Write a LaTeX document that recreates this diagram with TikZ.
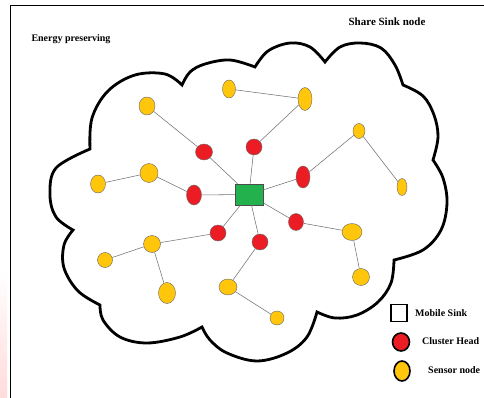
\documentclass[tikz,border=0pt]{standalone}
\usepackage{fontspec}
\setmainfont{Liberation Serif}
\usetikzlibrary{shapes.geometric}
\definecolor{sensorY}{HTML}{FFC60B}
\definecolor{headR}{HTML}{EC1C24}
\definecolor{sinkG}{HTML}{22B14C}
\begin{document}
\begin{tikzpicture}[x=1pt,y=-1pt,
  sensor/.style={ellipse, draw=black!60, fill=sensorY, line width=0.4pt, inner sep=0pt},
  head/.style={ellipse, draw=black!60, fill=headR, line width=0.4pt, inner sep=0pt},
  sinkbox/.style={rectangle, draw=black!70, fill=sinkG, line width=0.5pt, inner sep=0pt,
    minimum width=28pt, minimum height=21pt},
  link/.style={draw=black!55, line width=0.55pt},
  cloudline/.style={draw=black, line width=2.8pt, line join=miter},
  legendsym/.style={line width=1.6pt, draw=black, inner sep=0pt},
  label/.style={font=\bfseries\fontsize{10}{12}\selectfont, inner sep=0pt, anchor=west},
  sz/.style 2 args={minimum width=#1pt, minimum height=#2pt}
]
% page area and frame
\useasboundingbox (0,0) rectangle (484,398);
\fill[white] (0,0) rectangle (484,398);
\shade[top color=white, bottom color=red!14] (0,270) rectangle (7,398);
\draw[line width=1.8pt] (10.5,398) -- (10.5,5.5) -- (484,5.5);

% titles
\node[font=\bfseries\fontsize{10}{12}\selectfont, inner sep=0pt] (t1) at (71,39) {Energy preserving};
\node[font=\bfseries\fontsize{11}{13}\selectfont, inner sep=0pt] (t2) at (387,22) {Share Sink node};

% cloud outline, one smooth bump between each pair of notches
\draw[cloudline]
  plot[smooth, tension=0.6] coordinates {(90,149)(92,118)(108,91)(135,75)(165,74)(182,85)}
  -- plot[smooth, tension=0.6] coordinates {(182,85)(190,72)(205,64)(230,60)(255,67)}
  -- plot[smooth, tension=0.6] coordinates {(255,67)(268,51)(290,43)(310,47)(325,62)}
  -- plot[smooth, tension=0.6] coordinates {(325,62)(340,47)(360,43)(381,48)(395,65)(403,85)}
  -- plot[smooth, tension=0.6] coordinates {(403,85)(423,96)(434,115)(438,137)(433,160)}
  -- plot[smooth, tension=0.6] coordinates {(433,160)(443,178)(447,203)(441,230)(423,250)(394,260)}
  -- plot[smooth, tension=0.6] coordinates {(394,260)(391,283)(378,302)(357,315)(335,318)(317,312)}
  -- plot[smooth, tension=0.6] coordinates {(317,312)(307,337)(287,353)(257,361)(227,353)(210,340)(202,327)}
  -- plot[smooth, tension=0.6] coordinates {(202,327)(180,337)(147,343)(120,337)(103,320)(100,305)}
  -- plot[smooth, tension=0.6] coordinates {(100,305)(78,291)(64,268)(64,245)(73,230)}
  -- plot[smooth, tension=0.6] coordinates {(73,230)(56,217)(50,195)(56,168)(90,149)}
  -- cycle;

% mobile sink
\node[sinkbox] (sink) at (249,194.5) {};

% cluster heads
\node[head, sz={17}{16}] (r1) at (204,152) {};
\node[head, sz={16}{16}] (r2) at (254,147) {};
\node[head, sz={14}{22}] (r3) at (303,177) {};
\node[head, sz={15}{20}] (r4) at (194,195) {};
\node[head, sz={16}{16}] (r5) at (218,233) {};
\node[head, sz={16}{16}] (r6) at (260,242) {};
\node[head, sz={15}{17}] (r7) at (296,222) {};

% sensor nodes
\node[sensor, sz={16}{18}] (y1) at (147,106) {};
\node[sensor, sz={13}{18}] (y2) at (229,89) {};
\node[sensor, sz={14}{23}] (y3) at (305,99) {};
\node[sensor, sz={12}{15}] (y4) at (359,131) {};
\node[sensor, sz={10}{17}] (y5) at (402,187) {};
\node[sensor, sz={18}{19}] (y6) at (149,173) {};
\node[sensor, sz={15}{18}] (y7) at (98,184) {};
\node[sensor, sz={17}{17}] (y8) at (152,244) {};
\node[sensor, sz={15}{15}] (y9) at (105,260) {};
\node[sensor, sz={17}{21}] (y10) at (167,293) {};
\node[sensor, sz={18}{16}] (y11) at (228,287) {};
\node[sensor, sz={14}{14}] (y12) at (277,318) {};
\node[sensor, sz={20}{17}] (y13) at (352,232) {};
\node[sensor, sz={17}{17}] (y14) at (361,277) {};

% links
\draw[link] (y1) -- (r1);
\draw[link] (r1) -- (sink);
\draw[link] (y2) -- (y3);
\draw[link] (y3) -- (r2);
\draw[link] (r2) -- (sink);
\draw[link] (y4) -- (r3);
\draw[link] (y4) -- (y5);
\draw[link] (r3) -- (sink);
\draw[link] (y7) -- (y6);
\draw[link] (y6) -- (r4);
\draw[link] (r4) -- (sink);
\draw[link] (y9) -- (y8);
\draw[link] (y8) -- (r5);
\draw[link] (y8) -- (y10);
\draw[link] (r5) -- (sink);
\draw[link] (y11) -- (r6);
\draw[link] (y11) -- (y12);
\draw[link] (r6) -- (sink);
\draw[link] (r7) -- (sink);
\draw[link] (r7) -- (y13);
\draw[link] (y13) -- (y14);

% legend
\node[legendsym, rectangle, fill=white, sz={16}{17}] (lg1) at (399,313) {};
\node[label] (lt1) at (415,313) {Mobile Sink};
\node[legendsym, ellipse, fill=headR, sz={17}{18}] (lg2) at (401,342) {};
\node[label] (lt2) at (422,341) {Cluster Head};
\node[legendsym, ellipse, fill=sensorY, sz={16}{20}] (lg3) at (402,371) {};
\node[label] (lt3) at (428,370) {Sensor node};
\end{tikzpicture}
\end{document}
